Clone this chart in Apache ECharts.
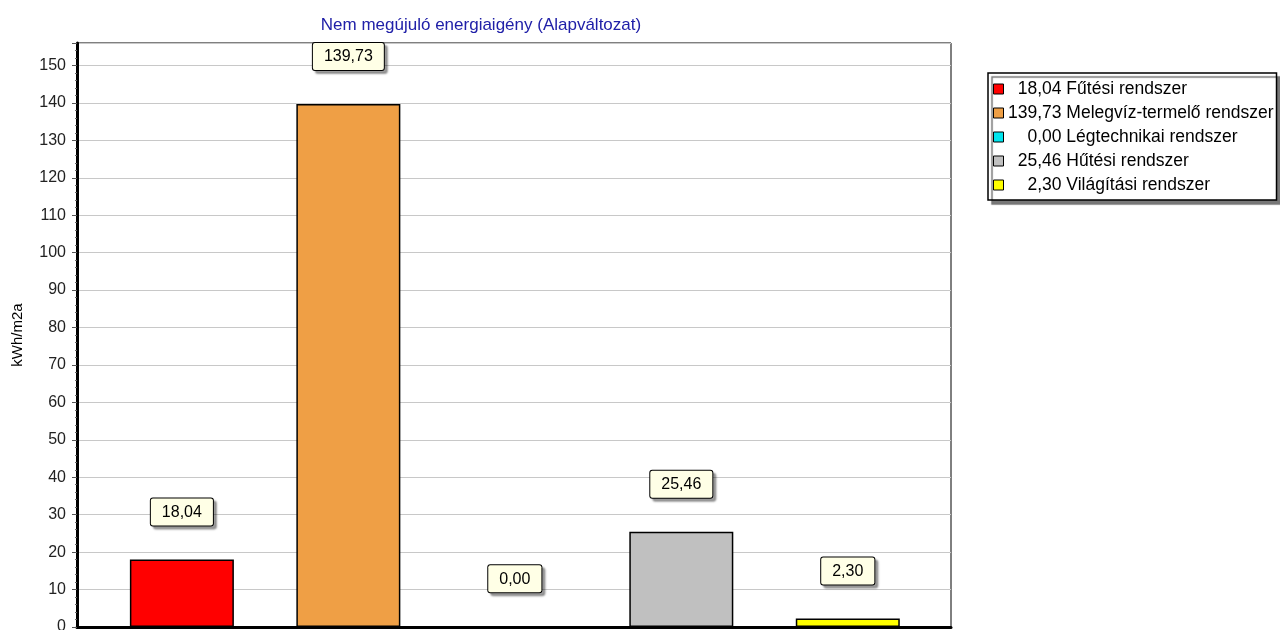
<!DOCTYPE html>
<html><head><meta charset="utf-8">
<script src="https://cdn.jsdelivr.net/npm/echarts@6/dist/echarts.min.js"></script>
<style>html,body{margin:0;padding:0;background:#fff}#c{width:1280px;height:630px}</style>
</head><body><div id="c"></div>
<script>
const title = 'Nem megújuló energiaigény (Alapváltozat)';
const yAxisName = 'kWh/m2a';
const categories = ['Fűtési rendszer','Melegvíz-termelő rendszer','Légtechnikai rendszer','Hűtési rendszer','Világítási rendszer'];
const values = [18.04, 139.73, 0.00, 25.46, 2.30];
const colors = ['#ff0000','#ef9f45','#00e5ee','#c0c0c0','#ffff00'];

const fmt = v => v.toFixed(2).replace('.', ',');
const FONT = 'Liberation Sans';

const series = categories.map((name, i) => ({
  type: 'bar',
  name: name,
  barWidth: 104,
  barGap: '-100%',
  data: [[i, values[i]]],
  itemStyle: { color: colors[i], borderColor: '#000', borderWidth: 1.5 },
  label: {
    show: true, position: 'top', distance: 34,
    formatter: p => fmt(p.value[1]),
    fontFamily: FONT, fontSize: 16, color: '#000',
    backgroundColor: '#ffffe6', borderColor: '#000', borderWidth: 1, borderRadius: 2,
    padding: [6, 11, 5, 11],
    shadowColor: 'rgba(0,0,0,0.35)', shadowOffsetX: 3, shadowOffsetY: 3, shadowBlur: 2
  },
  emphasis: { disabled: true }
}));

const chart = echarts.init(document.getElementById('c'));
chart.setOption({
  animation: false,
  backgroundColor: '#fff',
  title: {
    text: title, left: 476, textAlign: 'center', top: 12,
    textStyle: { fontFamily: FONT, fontSize: 17, fontWeight: 'normal', color: '#2020a8' }
  },
  grid: { left: 77, right: 329, top: 43, bottom: 3, show: true, borderColor: '#000', borderWidth: 1,
          containLabel: false, outerBoundsMode: 'none' },
  xAxis: {
    type: 'value', min: -0.63, max: 4.62,
    axisLine: { show: true, onZero: false, lineStyle: { color: '#000', width: 3 } },
    axisTick: { show: false }, axisLabel: { show: false }, splitLine: { show: false }
  },
  yAxis: {
    type: 'value', min: 0, max: 156, interval: 10,
    name: yAxisName, nameLocation: 'middle', nameGap: 52, nameRotate: 90,
    nameTextStyle: { fontFamily: FONT, fontSize: 15, color: '#000' },
    axisLine: { show: true, onZero: false, lineStyle: { color: '#000', width: 3 } },
    axisTick: { show: true, length: 5, lineStyle: { color: '#555' } },
    minorTick: { show: true, splitNumber: 5, length: 2, lineStyle: { color: '#666' } },
    axisLabel: { fontFamily: FONT, fontSize: 16, color: '#222', margin: 11,
      formatter: v => (v % 10 === 0 && v <= 150) ? String(v) : '' },
    splitLine: { show: true, lineStyle: { color: '#c8c8c8', width: 1 } }
  },
  legend: {
    orient: 'vertical', left: 988, top: 73,
    data: categories,
    icon: 'rect', itemWidth: 10, itemHeight: 10, itemGap: 6,
    padding: [7, 3, 6, 5],
    backgroundColor: '#fff', borderColor: '#000', borderWidth: 1.5, borderRadius: 0,
    shadowColor: '#777', shadowOffsetX: 4, shadowOffsetY: 4, shadowBlur: 1,
    selectedMode: false,
    itemStyle: { borderColor: '#000', borderWidth: 1 },
    formatter: name => {
      const i = categories.indexOf(name);
      return '{n|' + fmt(values[i]) + '}{t| ' + name + '}';
    },
    textStyle: {
      fontFamily: FONT, fontSize: 17.5, color: '#000', lineHeight: 17,
      rich: {
        n: { width: 53, align: 'right', fontFamily: FONT, fontSize: 17.5, color: '#000', lineHeight: 17 },
        t: { align: 'right', fontFamily: FONT, fontSize: 17.5, color: '#000', lineHeight: 17 }
      }
    }
  },
  series: series
});
</script></body></html>
